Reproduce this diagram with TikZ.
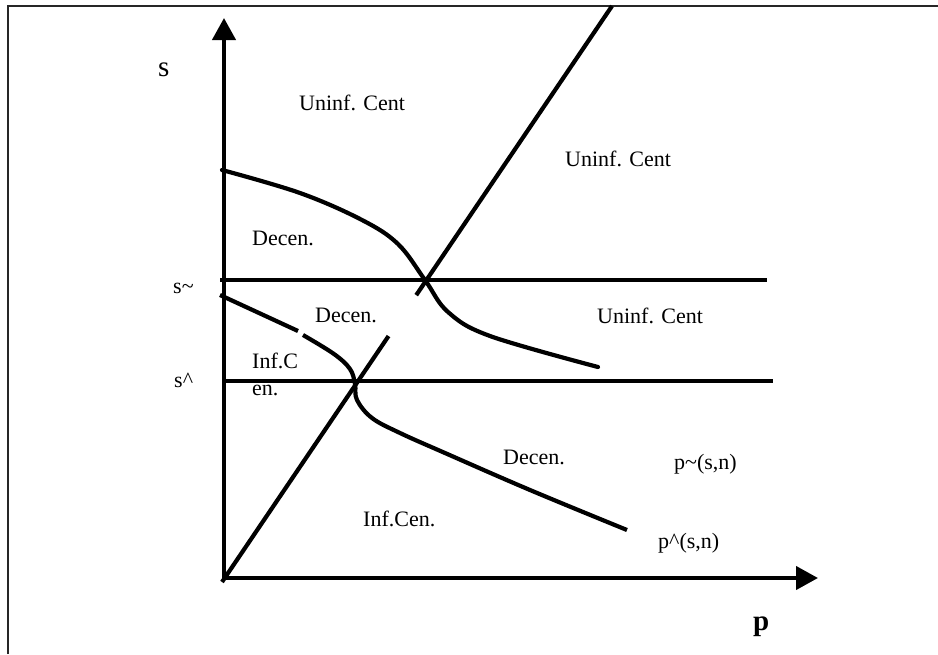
\documentclass[tikz,border=0pt]{standalone}
\usepackage{fontspec}
\setmainfont{Liberation Serif}
\usetikzlibrary{arrows.meta,calc}
\begin{document}
\begin{tikzpicture}[x=1pt,y=-1pt,
  curve/.style={line width=4.2pt, black},
  axisline/.style={line width=4.2pt, black, -{Triangle[length=22pt,width=23pt]}},
  framel/.style={line width=2pt, black!85},
  lbl/.style={anchor=base west, inner sep=0pt, font=\fontsize{22}{26}\selectfont},
  biglbl/.style={anchor=base west, inner sep=0pt, font=\fontsize{29}{32}\selectfont}]
\useasboundingbox (0,0) rectangle (938,654);
% frame
\coordinate (fbl) at (8,654);
\coordinate (ftl) at (8,6);
\coordinate (ftr) at (938,6);
\draw[framel] (fbl) -- (ftl) -- (ftr);
% axes
\coordinate (yb) at (224,580);
\coordinate (yt) at (224,18);
\coordinate (xl) at (222,578);
\coordinate (xr) at (818,578);
\draw[axisline] (yb) -- (yt);
\draw[axisline] (xl) -- (xr);
% horizontal thresholds
\coordinate (st1) at (220,280);
\coordinate (st2) at (767,280);
\coordinate (sh1) at (224,381);
\coordinate (sh2) at (773,381);
\draw[curve] (st1) -- (st2);
\draw[curve] (sh1) -- (sh2);
% diagonal with a gap
\coordinate (O) at (222,582);
\coordinate (T) at (612,6);
\draw[curve] (O) -- ($(O)!0.427!(T)$);
\draw[curve] ($(O)!0.498!(T)$) -- (T);
% upper curve p~(s,n)
\draw[curve, line cap=round] plot[smooth,tension=0.6] coordinates
  {(222,170) (300,193) (362,220) (398,244) (425,280) (448,312) (490,336) (598,367)};
% lower curve p^(s,n)
\coordinate (la) at (220,295);
\coordinate (lb) at (298,331);
\draw[curve] (la) -- (lb);
\draw[curve] plot[smooth,tension=0.6] coordinates
  {(303,335) (334,354) (350,369) (355,384) (357,400) (372,418) (400,433) (445,453) (530,490) (627,530)};
% labels
\node[biglbl] (ls) at (158,76) {s};
\node[biglbl, font=\fontsize{29}{32}\selectfont\bfseries] (lp) at (753,630) {p};
\node[lbl] (u1) at (299,110) {Uninf. Cent};
\node[lbl] (u2) at (565,166) {Uninf. Cent};
\node[lbl] (u3) at (597,323) {Uninf. Cent};
\node[lbl] (d1) at (252,245) {Decen.};
\node[lbl] (d2) at (315,322) {Decen.};
\node[lbl] (d3) at (503,464) {Decen.};
\node[lbl] (stl) at (173,293) {s\char`\~};
\node[lbl] (shl) at (174,387) {s\char`\^};
\node[lbl] (ic1) at (252,368) {Inf.C};
\node[lbl] (ic2) at (252,395) {en.};
\node[lbl] (ic) at (363,526) {Inf.Cen.};
\node[lbl] (pt) at (674,469) {p\char`\~(s,n)};
\node[lbl] (ph) at (658,548) {p\char`\^(s,n)};
\end{tikzpicture}
\end{document}
